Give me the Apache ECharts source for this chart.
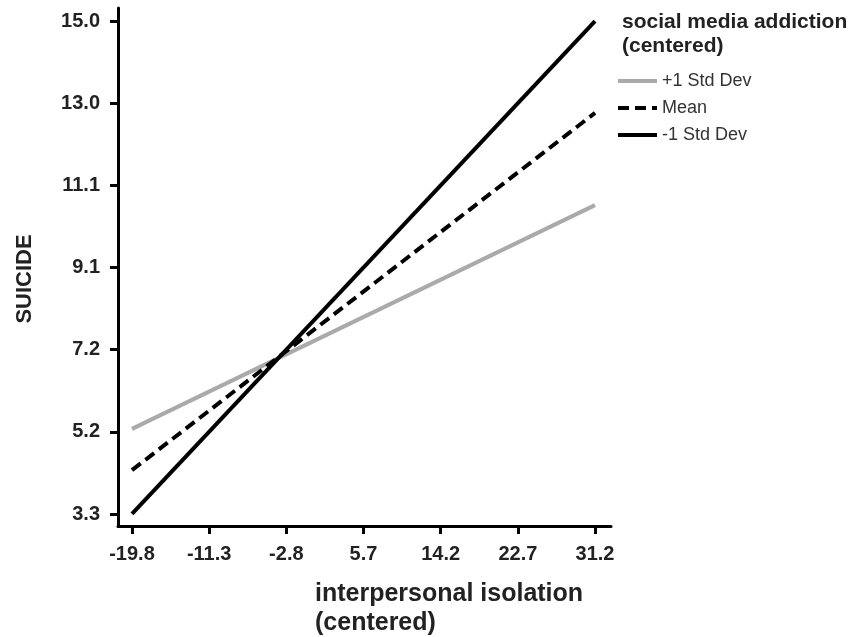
<!DOCTYPE html>
<html><head><meta charset="utf-8">
<script src="https://cdn.jsdelivr.net/npm/echarts@6/dist/echarts.min.js"></script>
<style>html,body{margin:0;padding:0;background:#fff}#c{width:850px;height:637px}</style>
</head><body><div id="c"></div>
<script>
// ---- data ----
const xEnds = [-19.8, 31.2];
const seriesNames = ['+1 Std Dev', 'Mean', '-1 Std Dev'];
const plusSD = [5.32, 10.63];
const meanVals = [4.34, 12.82];
const minusSD = [3.3, 15.0];
const xTickValues = [-19.8, -11.3, -2.8, 5.7, 14.2, 22.7, 31.2];
const xTickLabels = ['-19.8', '-11.3', '-2.8', '5.7', '14.2', '22.7', '31.2'];
const yTickValues = [3.3, 5.25, 7.2, 9.15, 11.1, 13.05, 15.0];
const yTickLabels = ['3.3', '5.2', '7.2', '9.1', '11.1', '13.0', '15.0'];
const legendTitle = 'social media addiction\n(centered)';
const xName = 'interpersonal isolation\n(centered)';
const yName = 'SUICIDE';

const FONT = "'Liberation Sans', Arial, sans-serif";
function pair(xs, ys) { return xs.map((x, i) => [x, ys[i]]); }
function lookup(vals, labels) {
  return function (v) {
    for (let i = 0; i < vals.length; i++) if (Math.abs(vals[i] - v) < 1e-6) return labels[i];
    return '';
  };
}

const chart = echarts.init(document.getElementById('c'), null, { renderer: 'canvas' });
chart.setOption({
  animation: false,
  backgroundColor: '#fff',
  grid: { left: 118, right: 239, top: 8, bottom: 111, containLabel: false },
  title: {
    text: legendTitle, left: 617, top: 5,
    textStyle: { fontFamily: FONT, fontSize: 21, fontWeight: 'bold', color: '#222', lineHeight: 24 }
  },
  legend: {
    orient: 'vertical', left: 611, top: 67,
    data: seriesNames,
    itemWidth: 39, itemHeight: 14, itemGap: 9,
    itemStyle: { opacity: 0 },
    lineStyle: { width: 4 },
    textStyle: { fontFamily: FONT, fontSize: 18, color: '#333' }
  },
  xAxis: {
    type: 'value', min: -21.34, max: 32.96,
    splitLine: { show: false },
    axisLine: { show: true, onZero: false, lineStyle: { color: '#000', width: 3 } },
    axisTick: { show: true, length: 8, lineStyle: { color: '#000', width: 3 }, customValues: xTickValues },
    axisLabel: { customValues: xTickValues, formatter: lookup(xTickValues, xTickLabels), margin: 18,
      fontFamily: FONT, fontSize: 20, fontWeight: 'bold', color: '#222' }
  },
  yAxis: {
    type: 'value', min: 3.015, max: 15.31,
    name: yName, nameLocation: 'middle', nameGap: 82, nameRotate: 90,
    nameTextStyle: { fontFamily: FONT, fontSize: 22, fontWeight: 'bold', color: '#222', padding: [0, 24, 0, 0] },
    splitLine: { show: false },
    axisLine: { show: true, onZero: false, lineStyle: { color: '#000', width: 3 } },
    axisTick: { show: true, length: 8, lineStyle: { color: '#000', width: 3 }, customValues: yTickValues },
    axisLabel: { customValues: yTickValues, formatter: lookup(yTickValues, yTickLabels), margin: 18,
      fontFamily: FONT, fontSize: 20, fontWeight: 'bold', color: '#222' }
  },
  graphic: [{
    type: 'text', left: 315, top: 580,
    style: { text: xName, font: "bold 25px 'Liberation Sans', Arial, sans-serif", fill: '#222', lineHeight: 29 }
  }],
  series: [
    { name: seriesNames[0], type: 'line', data: pair(xEnds, plusSD), symbol: 'none', z: 2,
      lineStyle: { color: '#aaaaaa', width: 4 }, itemStyle: { color: '#aaaaaa' } },
    { name: seriesNames[1], type: 'line', data: pair(xEnds, meanVals), symbol: 'none', z: 3,
      lineStyle: { color: '#000', width: 4, type: [11, 6] }, itemStyle: { color: '#000' } },
    { name: seriesNames[2], type: 'line', data: pair(xEnds, minusSD), symbol: 'none', z: 4,
      lineStyle: { color: '#000', width: 4 }, itemStyle: { color: '#000' } }
  ]
});
</script></body></html>
